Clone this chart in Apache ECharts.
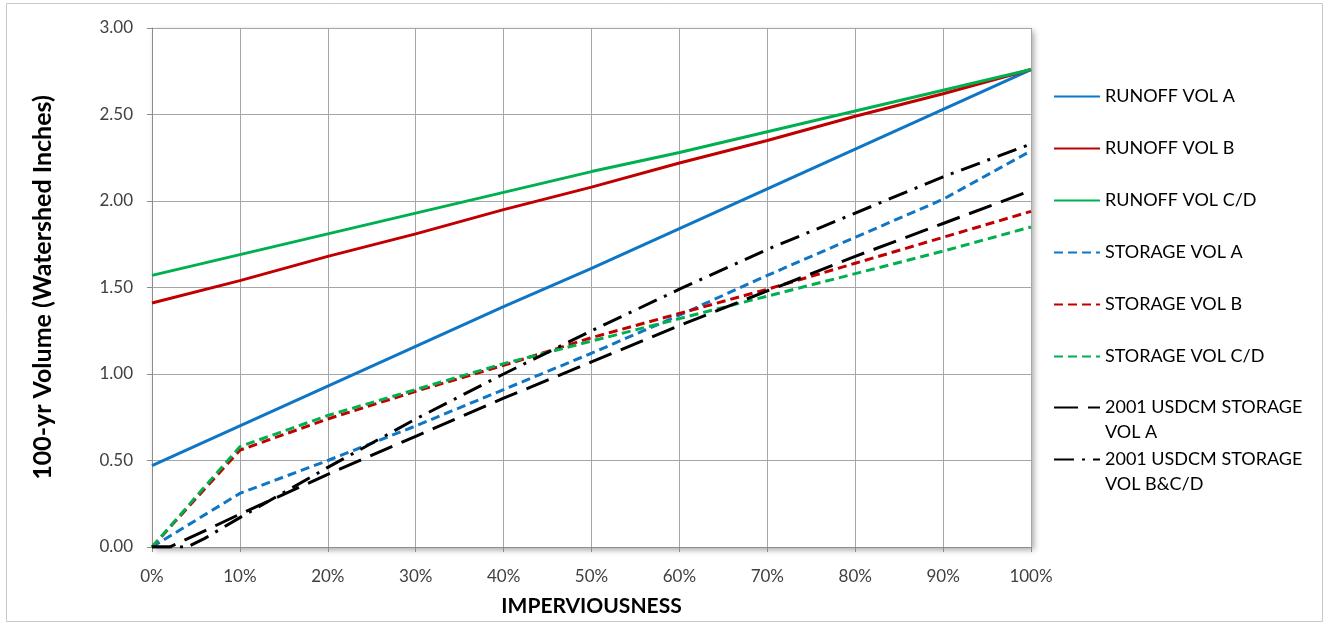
<!DOCTYPE html>
<html>
<head>
<meta charset="utf-8">
<script src="https://cdn.jsdelivr.net/npm/echarts@6/dist/echarts.min.js"></script>
<style>
html,body{margin:0;padding:0;background:#fff;}
#chart{width:1328px;height:626px;}
</style>
</head>
<body>
<div id="chart"></div>
<script>
// ---- data ----
const imperviousness = [0, 10, 20, 30, 40, 50, 60, 70, 80, 90, 100];
const runoffA   = [0.47, 0.70, 0.93, 1.16, 1.39, 1.61, 1.84, 2.07, 2.30, 2.53, 2.76];
const runoffB   = [1.41, 1.54, 1.68, 1.81, 1.95, 2.08, 2.22, 2.35, 2.49, 2.62, 2.76];
const runoffCD  = [1.57, 1.69, 1.81, 1.93, 2.05, 2.17, 2.28, 2.40, 2.52, 2.64, 2.76];
const storageA  = [0, 0.31, 0.50, 0.70, 0.91, 1.12, 1.34, 1.57, 1.79, 2.01, 2.29];
const storageB  = [0, 0.56, 0.74, 0.90, 1.05, 1.21, 1.35, 1.49, 1.64, 1.79, 1.94];
const storageCD = [0, 0.58, 0.76, 0.91, 1.06, 1.19, 1.32, 1.45, 1.58, 1.71, 1.85];
const usdcmA_x  = [0, 2, 5, 10, 20, 30, 40, 50, 60, 70, 80, 90, 100];
const usdcmA    = [0, 0, 0.07, 0.19, 0.42, 0.64, 0.86, 1.07, 1.28, 1.48, 1.68, 1.87, 2.06];
const usdcmBCD_x = [0, 4, 6, 8, 10, 20, 30, 40, 50, 60, 70, 80, 90, 100];
const usdcmBCD   = [0, 0, 0.05, 0.11, 0.17, 0.46, 0.74, 1.00, 1.25, 1.49, 1.72, 1.93, 2.14, 2.33];
const seriesNames = ['RUNOFF VOL A', 'RUNOFF VOL B', 'RUNOFF VOL C/D',
  'STORAGE VOL A', 'STORAGE VOL B', 'STORAGE VOL C/D',
  '2001 USDCM STORAGE VOL A', '2001 USDCM STORAGE VOL B&C/D'];
const yTicks = [0, 0.5, 1.0, 1.5, 2.0, 2.5, 3.0];

const pair = (xs, ys) => xs.map((x, i) => [x, ys[i]]);
const FONT = 'Lato';
const BLUE = '#0f76c6', RED = '#c00000', GREEN = '#00b050';

function line(name, data, color, type) {
  return {
    name, type: 'line', data, symbol: 'none', smooth: false,
    lineStyle: { color, width: 3, type: type || 'solid', cap: 'butt' },
    itemStyle: { color },
    emphasis: { disabled: true }, animation: false
  };
}

const legendCommon = {
  orient: 'vertical', left: 1048,
  itemWidth: 46, itemHeight: 12,
  itemStyle: { opacity: 0 },
  textStyle: { fontFamily: FONT, fontSize: 18, color: '#000', lineHeight: 25 },
  selectedMode: false
};

const chart = echarts.init(document.getElementById('chart'));
chart.setOption({
  backgroundColor: '#fff',
  animation: false,
  graphic: [{
    type: 'rect', shape: { x: 6.5, y: 3.5, width: 1316, height: 618 },
    style: { fill: 'none', stroke: '#c8c8c8', lineWidth: 1 }, silent: true, z: -10
  }],
  grid: {
    left: 152, right: 297, top: 28, bottom: 79, show: true,
    backgroundColor: '#fff', borderWidth: 0,
    shadowColor: 'rgba(0,0,0,0.35)', shadowBlur: 6, shadowOffsetX: 3, shadowOffsetY: 3
  },
  xAxis: {
    type: 'value', min: 0, max: 100, interval: 10,
    name: 'IMPERVIOUSNESS', nameLocation: 'middle', nameGap: 49,
    nameTextStyle: { fontFamily: FONT, fontWeight: 'bold', fontSize: 21, color: '#000' },
    axisLine: { show: true, lineStyle: { color: '#8c8c8c', width: 1 } },
    axisTick: { show: true, length: 5, lineStyle: { color: '#8c8c8c' } },
    axisLabel: { formatter: '{value}%', fontFamily: FONT, fontSize: 17, color: '#404040', margin: 21 },
    splitLine: { show: true, lineStyle: { color: '#a6a6a6', width: 1 } }
  },
  yAxis: {
    type: 'value', min: yTicks[0], max: yTicks[yTicks.length - 1], interval: 0.5,
    name: '100-yr Volume (Watershed Inches)', nameLocation: 'middle', nameGap: 97,
    nameTextStyle: { fontFamily: FONT, fontWeight: 'bold', fontSize: 25, color: '#000' },
    axisLine: { show: true, lineStyle: { color: '#8c8c8c', width: 1 } },
    axisTick: { show: true, length: 5, lineStyle: { color: '#8c8c8c' } },
    axisLabel: { formatter: v => v.toFixed(2), fontFamily: FONT, fontSize: 17, color: '#404040', margin: 19 },
    splitLine: { show: true, lineStyle: { color: '#a6a6a6', width: 1 } }
  },
  legend: [
    Object.assign({}, legendCommon, { top: 79, itemGap: 27, data: seriesNames.slice(0, 6) }),
    Object.assign({}, legendCommon, {
      top: 365, itemGap: -23, data: seriesNames.slice(6),
      formatter: n => '\n' + n.replace(' STORAGE ', ' STORAGE\n')
    })
  ],
  series: [
    line(seriesNames[0], pair(imperviousness, runoffA), BLUE),
    line(seriesNames[1], pair(imperviousness, runoffB), RED),
    line(seriesNames[2], pair(imperviousness, runoffCD), GREEN),
    line(seriesNames[3], pair(imperviousness, storageA), BLUE, [9, 5]),
    line(seriesNames[4], pair(imperviousness, storageB), RED, [9, 5]),
    line(seriesNames[5], pair(imperviousness, storageCD), GREEN, [9, 5]),
    line(seriesNames[6], pair(usdcmA_x, usdcmA), '#000', [24, 10]),
    line(seriesNames[7], pair(usdcmBCD_x, usdcmBCD), '#000', [20, 8, 3, 8])
  ]
});
</script>
</body>
</html>
